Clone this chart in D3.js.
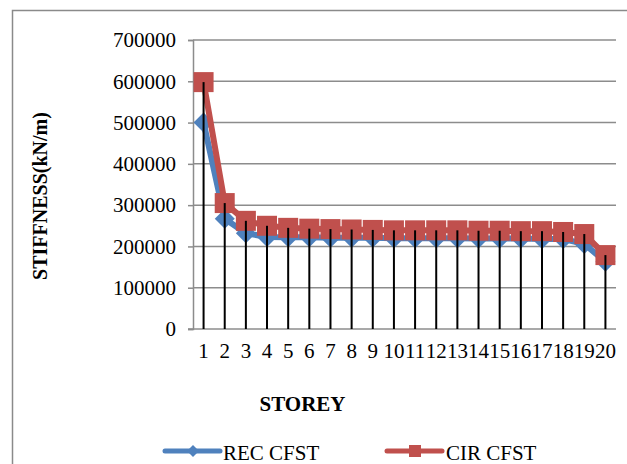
<!DOCTYPE html>
<html><head><meta charset="utf-8">
<script src="https://cdn.jsdelivr.net/npm/d3@7"></script>
<style>
html,body{margin:0;padding:0;background:#fff;}
svg text{font-family:'Liberation Serif','Times New Roman',Tinos,'Nimbus Roman','FreeSerif','DejaVu Serif',serif !important;fill:#000;}
</style></head>
<body>
<script>
const storeys = ["1","2","3","4","5","6","7","8","9","10","11","12","13","14","15","16","17","18","19","20"];
const recCFST = [500000,267000,232000,223000,222000,222000,221000,221000,221000,220000,220000,220000,220000,219000,219000,219000,218000,218000,206000,163000];
const cirCFST = [598000,305000,262000,250000,245000,243000,242000,241000,240000,239000,239000,239000,239000,238000,238000,237000,237000,235000,230000,179000];
const yTicks = [0,100000,200000,300000,400000,500000,600000,700000];
const seriesNames = ["REC CFST","CIR CFST"];
const seriesColors = ["#4f81bd","#c0504d"];

const W=627,H=464;
const svg=d3.select("body").append("svg").attr("width",W).attr("height",H);

svg.append("path").attr("d","M12.5,"+H+" V10.5 H"+W).attr("fill","none").attr("stroke","#8a8a8a").attr("stroke-width",1.5);

const x0=193,x1=616,yTop=40,yBot=329;
const x=d3.scaleBand().domain(storeys).range([x0,x1]);
const y=d3.scaleLinear().domain([0,700000]).range([yBot,yTop]);
const cx=d=>x(d)+x.bandwidth()/2;

svg.append("g").selectAll("line").data(yTicks.filter(v=>v>0)).join("line")
  .attr("x1",x0).attr("x2",x1).attr("y1",d=>y(d)).attr("y2",d=>y(d))
  .attr("stroke","#8c8c8c").attr("stroke-width",1.5);

const ya=svg.append("g").attr("transform","translate("+x0+",0)")
  .call(d3.axisLeft(y).tickValues(yTicks).tickSize(5).tickPadding(12).tickFormat(d3.format("d")));
ya.attr("font-family",null);
ya.select(".domain").attr("stroke","#8c8c8c").attr("stroke-width",1.5);
ya.selectAll(".tick line").attr("stroke","#8c8c8c").attr("stroke-width",1.5);
ya.selectAll(".tick text").attr("font-size",21);

const xa=svg.append("g").attr("transform","translate(0,"+yBot+")")
  .call(d3.axisBottom(x).tickSize(0).tickPadding(14));
xa.attr("font-family",null);
xa.select(".domain").attr("stroke","#8c8c8c").attr("stroke-width",1.5).attr("d","M"+(x0-5)+",0H"+x1);
xa.selectAll(".tick text").attr("font-size",21);

const data=[recCFST,cirCFST];
const line=d3.line().x((d,i)=>cx(storeys[i])).y(d=>y(d));

function drawSeries(k){
  const g=svg.append("g");
  g.append("path").datum(data[k]).attr("d",line).attr("fill","none")
    .attr("stroke",seriesColors[k]).attr("stroke-width",6).attr("stroke-linejoin","round");
  if(k===0){
    g.selectAll("path.m").data(data[k]).join("path").attr("class","m")
      .attr("d",(d,i)=>{const px=cx(storeys[i]),py=y(d),r=10;return `M${px},${py-r}L${px+r},${py}L${px},${py+r}L${px-r},${py}Z`;})
      .attr("fill",seriesColors[k]);
  } else {
    g.selectAll("rect.m").data(data[k]).join("rect").attr("class","m")
      .attr("x",(d,i)=>cx(storeys[i])-10).attr("y",d=>y(d)-10).attr("width",20).attr("height",20)
      .attr("fill",seriesColors[k]);
  }
}
drawSeries(0);drawSeries(1);

svg.append("g").selectAll("line").data(storeys).join("line")
  .attr("x1",d=>cx(d)).attr("x2",d=>cx(d))
  .attr("y1",(d,i)=>y(Math.max(recCFST[i],cirCFST[i]))).attr("y2",yBot)
  .attr("stroke","#000").attr("stroke-width",2);

svg.append("text").attr("x",302.5).attr("y",411).attr("text-anchor","middle")
  .attr("font-size",21).attr("font-weight","bold").text("STOREY");
svg.append("text").attr("transform","translate(47,196) rotate(-90)").attr("text-anchor","middle")
  .attr("font-size",20).attr("font-weight","bold").text("STIFFNESS(kN/m)");

const leg=[{x:165,tx:223},{x:387,tx:446}];
leg.forEach((L,k)=>{
  const g=svg.append("g");
  g.append("line").attr("x1",L.x).attr("x2",L.x+55).attr("y1",451).attr("y2",451)
    .attr("stroke",seriesColors[k]).attr("stroke-width",5).attr("stroke-linecap","round");
  const mx=L.x+28;
  if(k===0) g.append("path").attr("d",`M${mx},445L${mx+6},451L${mx},457L${mx-6},451Z`).attr("fill",seriesColors[k]);
  else g.append("rect").attr("x",mx-6).attr("y",445).attr("width",12).attr("height",12).attr("fill",seriesColors[k]);
  g.append("text").attr("x",L.tx).attr("y",460).attr("font-size",21).text(seriesNames[k]);
});
</script>
</body></html>
